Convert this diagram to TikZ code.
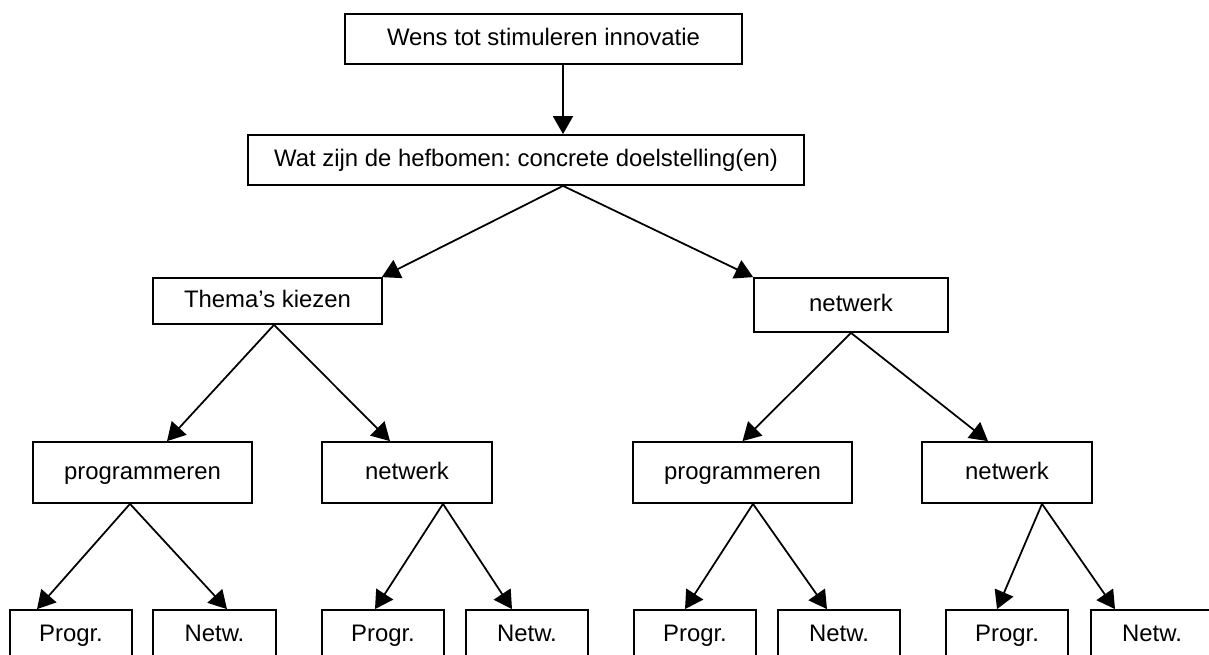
\documentclass[tikz,border=0pt]{standalone}
\usepackage{fontspec}
\setmainfont{Liberation Sans}
\frenchspacing
\usetikzlibrary{arrows.meta,calc}

\begin{document}
\begin{tikzpicture}[x=0.02cm,y=-0.02cm,line width=1pt,>={Triangle[length=0.36cm,width=0.4cm]},
		box/.style 2 args={draw,inner sep=0pt,minimum width=#1*0.02cm,minimum height=#2*0.02cm,text height=0.95em,text depth=0.21em,font=\fontsize{13.6pt}{16pt}\selectfont}]
		\useasboundingbox (0,0) rectangle (1209,655);
		\node[box={397}{50}](wens) at (543.5,39) {Wens tot stimuleren innovatie};
		\node[box={556}{50}](doel) at (526,160) {Wat zijn de hefbomen: concrete doelstelling(en)};
		\node[box={229}{46}](thema) at (267.5,301) {Thema’s kiezen};
		\node[box={194}{54}](net) at (851,305) {netwerk};
		% tweede laag
		\node[box={219}{61}](progL) at (142.5,472.5) {programmeren};
		\node[box={170}{61}](netL) at (407,472.5) {netwerk};
		\node[box={219}{61}](progR) at (742.5,472.5) {programmeren};
		\node[box={170}{61}](netR) at (1007,472.5) {netwerk};
		% onderste laag
		\node[box={122}{50}](b1) at (71,635) {Progr.};
		\node[box={123}{50}](b2) at (214.5,635) {Netw.};
		\node[box={122}{50}](b3) at (383,635) {Progr.};
		\node[box={122}{50}](b4) at (527,635) {Netw.};
		\node[box={122}{50}](b5) at (695,635) {Progr.};
		\node[box={122}{50}](b6) at (839,635) {Netw.};
		\node[box={122}{50}](b7) at (1007,635) {Progr.};
		\node[box={122}{50}](b8) at (1152,635) {Netw.};
		\path[->]
		($(wens.south)+(19.5,0)$) edge ($(doel.north)+(37,0)$)
		($(doel.south)+(37,0)$) edge ($(thema.north east)+(-1,0)$)
		($(doel.south)+(37,0)$) edge (net.north west)
		($(thema.south)+(6.5,0)$) edge ($(progL.north)+(24.5,0)$)
		($(thema.south)+(6.5,0)$) edge ($(netL.north)+(-17,0)$)
		(net.south) edge (progR.north)
		(net.south) edge ($(netR.north)+(-19,0)$)
		($(progL.south)+(-12.5,0)$) edge ($(b1.north)+(-34,0)$)
		($(progL.south)+(-12.5,0)$) edge ($(b2.north)+(12.5,0)$)
		($(netL.south)+(36,0)$) edge ($(b3.north)+(-8,0)$)
		($(netL.south)+(36,0)$) edge ($(b4.north)+(-15,0)$)
		($(progR.south)+(10.5,0)$) edge ($(b5.north)+(-10,0)$)
		($(progR.south)+(10.5,0)$) edge ($(b6.north)+(-12,0)$)
		($(netR.south)+(35,0)$) edge ($(b7.north)+(-10,0)$)
		($(netR.south)+(35,0)$) edge ($(b8.north)+(-37,0)$);
\end{tikzpicture}
\end{document}
